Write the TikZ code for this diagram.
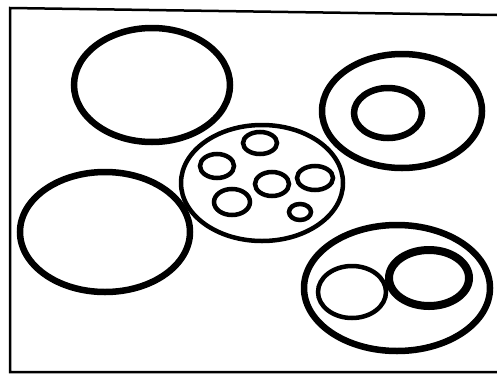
\documentclass[tikz,border=0pt]{standalone}
\usepackage{tikz}

\begin{document}
\begin{tikzpicture}[
      x=1pt, y=-1pt,
      frame/.style={line width=2.5pt, line join=miter},
      ring/.style={draw, line width=6.5pt},
      cell/.style={draw, line width=4.5pt},
      blob/.style={draw, line width=4.5pt}
    ]
    \useasboundingbox (0,0) rectangle (497,375);
    % outer frame, open at the right edge
    \draw[frame] (497,15) -- (10,8) -- (10,372) -- (497,372);
    % the two empty rings on the left
    \draw[ring] (152,85)  ellipse [x radius=78, y radius=57];
    \draw[ring] (105,232) ellipse [x radius=85, y radius=60];
    % middle one holding the small ones
    \draw[cell] (262,183) ellipse [x radius=81, y radius=58];
    \draw[blob] (260,143) ellipse [x radius=17, y radius=11];
    \draw[blob] (217,166) ellipse [x radius=17, y radius=12];
    \draw[blob] (272,184) ellipse [x radius=17, y radius=12];
    \draw[blob] (315,178) ellipse [x radius=18, y radius=12];
    \draw[blob] (232,202) ellipse [x radius=18, y radius=13];
    \draw[blob] (300,212) ellipse [x radius=11, y radius=8];
    % top right: ring with one inside
    \draw[ring] (402,111) ellipse [x radius=80, y radius=57];
    \draw[ring] (388,113) ellipse [x radius=34, y radius=25];
    % bottom right: ring with two inside
    \draw[ring] (397,288) ellipse [x radius=93, y radius=63];
    \draw[cell] (352,292) ellipse [x radius=34, y radius=26];
    \draw[ring, line width=8pt] (429,278) ellipse [x radius=40, y radius=28];
\end{tikzpicture}
\end{document}
